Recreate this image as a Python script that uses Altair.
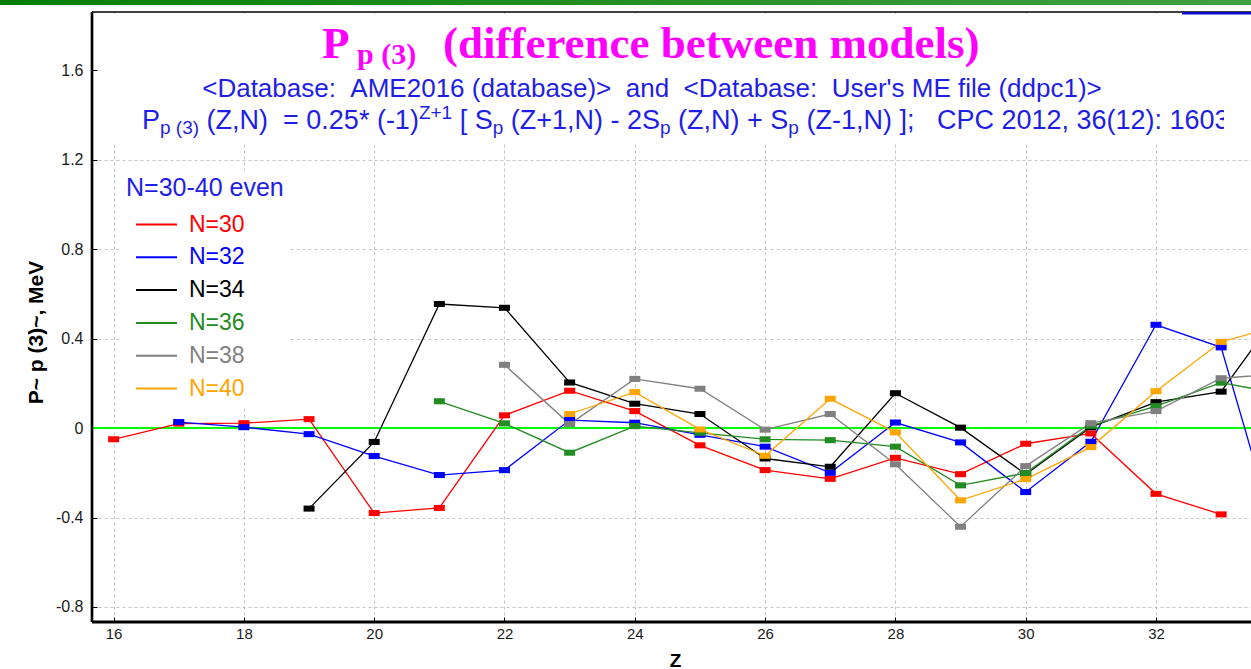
import altair as alt
import pandas as pd

# Pairing indicator P_p(3) differences, MeV, one list per neutron number N.
# Each list starts at its own first proton number Z.
N30_START, N30 = 16, [-0.050, 0.020, 0.022, 0.040, -0.380, -0.357, 0.057, 0.167, 0.076,
                      -0.077, -0.188, -0.227, -0.133, -0.206, -0.070, -0.024, -0.294, -0.386]
N32_START, N32 = 17, [0.027, 0.004, -0.027, -0.125, -0.210, -0.188, 0.036, 0.024, -0.030,
                      -0.083, -0.200, 0.025, -0.064, -0.286, -0.061, 0.462, 0.361, -0.640]
N34_START, N34 = 19, [-0.360, -0.062, 0.555, 0.538, 0.204, 0.109, 0.063, -0.136, -0.173,
                      0.156, 0.002, -0.206, 0.004, 0.116, 0.163, 0.563]
N36_START, N36 = 21, [0.120, 0.021, -0.110, 0.009, -0.021, -0.050, -0.054, -0.083, -0.256,
                      -0.201, 0.010, 0.098, 0.203, 0.149]
N38_START, N38 = 22, [0.283, 0.018, 0.220, 0.176, -0.007, 0.063, -0.162, -0.441, -0.170,
                      0.022, 0.076, 0.223, 0.245]
N40_START, N40 = 23, [0.063, 0.161, -0.006, -0.124, 0.131, -0.019, -0.323, -0.228, -0.085,
                      0.165, 0.386, 0.466]

LABELS = ["N=30", "N=32", "N=34", "N=36", "N=38", "N=40"]
COLORS = ["#FF0000", "#0000FF", "#000000", "#228B22", "#808080", "#FFA500"]
SERIES = [(N30_START, N30), (N32_START, N32), (N34_START, N34),
          (N36_START, N36), (N38_START, N38), (N40_START, N40)]

X_TICKS = [16, 18, 20, 22, 24, 26, 28, 30, 32]
Y_TICKS = [-0.8, -0.4, 0, 0.4, 0.8, 1.2, 1.6]

rows = []
for label, (z0, vals) in zip(LABELS, SERIES):
    for i, v in enumerate(vals):
        rows.append({"Z": z0 + i, "P": v, "N": label})
data = pd.DataFrame(rows)

W, H = 1159, 610
BLUE_TXT = "#1E1EE6"
NB = "\u00a0"

x_enc = alt.X(
    "Z:Q",
    scale=alt.Scale(domain=[15.6685, 33.4582], nice=False, zero=False),
    axis=alt.Axis(
        values=X_TICKS, format="d", title="Z", grid=True, gridColor="#C4C4C4",
        gridDash=[3, 3], domain=False, offset=-5, tickSize=5, tickColor="black",
        tickWidth=1, labelFont="Liberation Sans", labelFontSize=15,
        labelColor="#1a1a1a", labelPadding=4, labelFlush=False, labelOverlap=False,
        titleFont="Liberation Sans", titleFontSize=19, titleFontWeight="bold",
        titleColor="black", titleX=583, titleY=49, titleBaseline="alphabetic",
    ),
)
y_enc = alt.Y(
    "P:Q",
    scale=alt.Scale(domain=[-0.8672, 1.8609], nice=False, zero=False),
    axis=alt.Axis(
        values=Y_TICKS, title="P~ p (3)~, MeV", grid=True, gridColor="#C4C4C4",
        gridDash=[3, 3], domain=False, offset=-5, tickSize=5, tickColor="black",
        tickWidth=1,
        labelExpr="datum.value < 0 ? '-' + format(-datum.value, '.1~f') : format(datum.value, '.1~f')",
        labelFont="Liberation Sans", labelFontSize=16, labelColor="#1a1a1a",
        labelPadding=9, labelFlush=False, labelOverlap=False,
        titleFont="Liberation Sans", titleFontSize=21, titleFontWeight="bold",
        titleColor="black", titleAngle=270, titleX=-55, titleY=320,
        titleBaseline="alphabetic", titleAlign="center",
    ),
)

color_scale = alt.Scale(domain=LABELS, range=COLORS)
legend = alt.Legend(
    title="N=30-40 even", orient="none", legendX=29, legendY=158.5,
    titleColor=BLUE_TXT, titleFont="Liberation Sans", titleFontSize=25,
    titleFontWeight="normal", titlePadding=13,
    labelFont="Liberation Sans", labelFontSize=23,
    labelColor=alt.ExprRef("scale('color', datum.value)"),
    symbolType="stroke", symbolSize=1681, symbolStrokeWidth=2,
    symbolOffset=9, labelOffset=11, clipHeight=22, rowPadding=9.8,
    fillColor="white", padding=5,
)

base = alt.Chart(data)

zero_line = base.mark_rule(color="#00FF00", strokeWidth=1.2).encode(
    y=alt.datum(0), x=alt.value(0), x2=alt.value(W)
)
lines = base.mark_line(strokeWidth=1.3, clip=True).encode(
    x=x_enc, y=y_enc,
    color=alt.Color("N:N", scale=color_scale, legend=legend),
    detail="N:N",
)
RECT = "M-1,-0.55L1,-0.55L1,0.55L-1,0.55Z"
markers = base.mark_point(shape=RECT, filled=True, size=121, opacity=1, clip=True).encode(
    x=alt.X("Z:Q"), y=alt.Y("P:Q"),
    color=alt.Color("N:N", scale=color_scale, legend=None),
)

one = pd.DataFrame({"k": [0]})


def box(x, x2, y, y2, color):
    return alt.Chart(one).mark_rect(color=color).encode(
        x=alt.value(x), x2=alt.value(x2), y=alt.value(y), y2=alt.value(y2)
    )


def label(s, x, y, size, color, font="Liberation Sans", weight="normal", align="left"):
    return alt.Chart(one).mark_text(
        align=align, baseline="alphabetic", font=font, fontSize=size,
        fontWeight=weight, color=color,
    ).encode(x=alt.value(x), y=alt.value(y), text=alt.value(s))


def hline(x, x2, y, color, w):
    return alt.Chart(one).mark_rule(color=color, strokeWidth=w).encode(
        x=alt.value(x), x2=alt.value(x2), y=alt.value(y)
    )


def vline(x, y, y2, color, w):
    return alt.Chart(one).mark_rule(color=color, strokeWidth=w).encode(
        x=alt.value(x), y=alt.value(y), y2=alt.value(y2)
    )


# Heading block
MAGENTA = "#FF00FF"
heading = [
    box(8, W, 2, 130, "white"),
    label("P", 230, 46, 45, MAGENTA, "Liberation Serif", "bold"),
    label("p (3)", 265, 52, 30, MAGENTA, "Liberation Serif", "bold"),
    label("(difference between models)", 351, 46, 45, MAGENTA, "Liberation Serif", "bold"),
    label(f"<Database:{NB}{NB}AME2016 (database)>{NB}{NB}and{NB}{NB}<Database:{NB}{NB}User's ME file (ddpc1)>",
          560, 85, 26, BLUE_TXT, align="center"),
]

# Formula line: segments laid out with Arial advance widths
CHAR_W = {" ": 278, NB: 278, "(": 333, ")": 333, "[": 278, "]": 278, ",": 278, ".": 278,
          ";": 278, ":": 278, "*": 389, "-": 333, "+": 584, "=": 584, "P": 667, "p": 556,
          "Z": 611, "N": 722, "S": 667, "C": 722}


def text_w(s, size):
    return sum(CHAR_W.get(c, 556) for c in s) * size / 1000.0


FORMULA = [("P", "n"), ("p (3)", "s"), (" (Z,N)  = 0.25* (-1)", "n"), ("Z+1", "u"),
           (" [ S", "n"), ("p", "s"), (" (Z+1,N) - 2S", "n"), ("p", "s"),
           (" (Z,N) + S", "n"), ("p", "s"), (" (Z-1,N) ];   CPC 2012, 36(12): 1603", "n")]
F_SIZE = {"n": 27, "s": 19, "u": 19}
F_SHIFT = {"n": 0, "s": 5, "u": -10}
fx = 50.0
formula = []
for seg, kind in FORMULA:
    size = F_SIZE[kind]
    body = seg.lstrip(" ")
    fx += text_w(seg[: len(seg) - len(body)], size)
    txt = body.replace(" ", NB)
    formula.append(label(txt, fx, 117 + F_SHIFT[kind], size, BLUE_TXT))
    fx += text_w(txt, size)
formula.append(box(1132, W, 90, 128, "white"))

# Frame and top banner
frame = [
    hline(0, W, 0, "black", 1.6),
    hline(1090, W, 1.3, "#0A0AC8", 2.4),
    vline(0, 0, H, "black", 2.7),
    hline(0, W, H, "black", 3),
    alt.Chart(one).mark_rect(
        color=alt.LinearGradient(
            gradient="linear", x1=0, x2=1, y1=0, y2=0,
            stops=[alt.GradientStop(color="#007C00", offset=0),
                   alt.GradientStop(color="#0A800A", offset=0.06),
                   alt.GradientStop(color="#42A042", offset=1)],
        )
    ).encode(x=alt.value(-92), x2=alt.value(W), y=alt.value(-12), y2=alt.value(-7)),
]

chart = alt.layer(zero_line, lines, markers, *heading, *formula, *frame).properties(
    width=W, height=H,
    autosize=alt.AutoSizeParams(type="none"),
    padding={"left": 92, "top": 12, "right": 0, "bottom": 47},
    background="white",
).configure_view(stroke=None)

chart.save("out.html", embed_options={"renderer": "svg", "actions": False})
